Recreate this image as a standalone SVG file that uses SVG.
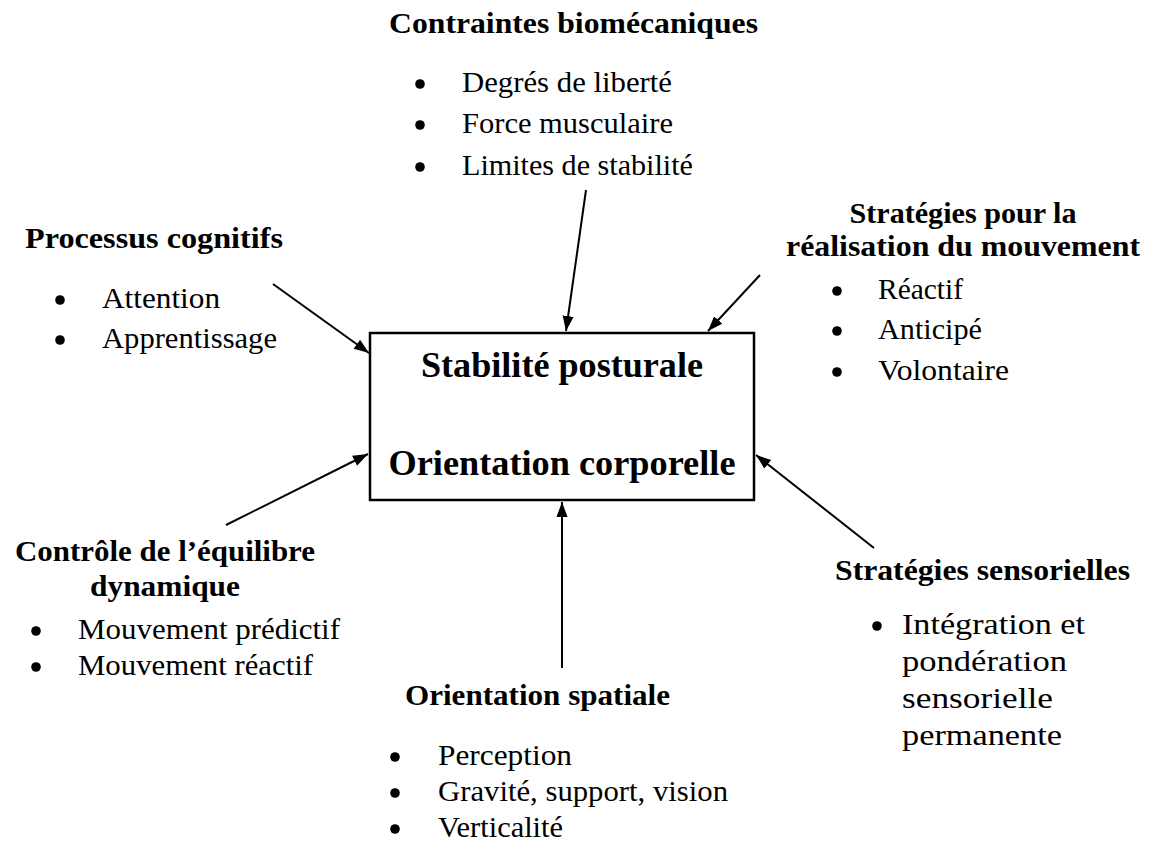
<svg xmlns="http://www.w3.org/2000/svg" width="1151" height="847" viewBox="0 0 1151 847">
<defs>
<style>
text{font-family:"Liberation Serif","Times New Roman",serif;fill:#000}
.h{font-weight:bold;font-size:29px}
.t{font-size:29px}
.m{font-weight:bold;font-size:36px}
.b{fill:#000}
.c{stroke:#000;stroke-width:2;fill:none}
</style>
<marker id="ah" viewBox="0 0 10 10" refX="10" refY="5" markerWidth="7.5" markerHeight="7.5" markerUnits="strokeWidth" orient="auto">
<path d="M0,1.3 L10,5 L0,8.7 z" fill="#000"/>
</marker>
</defs>
<rect width="1151" height="847" fill="#fff"/>
<g id="center">
<rect x="370" y="333" width="384" height="167" fill="#fff" stroke="#000" stroke-width="2.5"/>
<text class="m" x="562" y="377" text-anchor="middle" textLength="282" lengthAdjust="spacingAndGlyphs">Stabilité posturale</text>
<text class="m" x="562" y="475" text-anchor="middle" textLength="347" lengthAdjust="spacingAndGlyphs">Orientation corporelle</text>
</g>
<g id="biomecanique">
<text class="h" x="389" y="33" textLength="369" lengthAdjust="spacingAndGlyphs">Contraintes biomécaniques</text>
<circle class="b" cx="420" cy="84" r="4.8"/><text class="t" x="462" y="92" textLength="210" lengthAdjust="spacingAndGlyphs">Degrés de liberté</text>
<circle class="b" cx="420" cy="125" r="4.8"/><text class="t" x="462" y="133" textLength="211" lengthAdjust="spacingAndGlyphs">Force musculaire</text>
<circle class="b" cx="420" cy="167" r="4.8"/><text class="t" x="462" y="175" textLength="231" lengthAdjust="spacingAndGlyphs">Limites de stabilité</text>
</g>
<g id="cognitifs">
<text class="h" x="25" y="248" textLength="258" lengthAdjust="spacingAndGlyphs">Processus cognitifs</text>
<circle class="b" cx="60" cy="300" r="4.8"/><text class="t" x="102" y="308" textLength="118" lengthAdjust="spacingAndGlyphs">Attention</text>
<circle class="b" cx="60" cy="340" r="4.8"/><text class="t" x="102" y="348" textLength="175" lengthAdjust="spacingAndGlyphs">Apprentissage</text>
</g>
<g id="strategies-mouvement">
<text class="h" x="963" y="223" text-anchor="middle" textLength="227" lengthAdjust="spacingAndGlyphs">Stratégies pour la</text>
<text class="h" x="963" y="256" text-anchor="middle" textLength="354" lengthAdjust="spacingAndGlyphs">réalisation du mouvement</text>
<circle class="b" cx="837" cy="291" r="4.8"/><text class="t" x="878" y="299" textLength="85" lengthAdjust="spacingAndGlyphs">Réactif</text>
<circle class="b" cx="837" cy="331" r="4.8"/><text class="t" x="878" y="339" textLength="104" lengthAdjust="spacingAndGlyphs">Anticipé</text>
<circle class="b" cx="837" cy="372" r="4.8"/><text class="t" x="878" y="380" textLength="131" lengthAdjust="spacingAndGlyphs">Volontaire</text>
</g>
<g id="equilibre">
<text class="h" x="165" y="561" text-anchor="middle" textLength="300" lengthAdjust="spacingAndGlyphs">Contrôle de l’équilibre</text>
<text class="h" x="165" y="596" text-anchor="middle" textLength="150" lengthAdjust="spacingAndGlyphs">dynamique</text>
<circle class="b" cx="36" cy="631" r="4.8"/><text class="t" x="78" y="639" textLength="262" lengthAdjust="spacingAndGlyphs">Mouvement prédictif</text>
<circle class="b" cx="36" cy="667" r="4.8"/><text class="t" x="78" y="675" textLength="235" lengthAdjust="spacingAndGlyphs">Mouvement réactif</text>
</g>
<g id="spatiale">
<text class="h" x="405" y="705" textLength="265" lengthAdjust="spacingAndGlyphs">Orientation spatiale</text>
<circle class="b" cx="395" cy="757" r="4.8"/><text class="t" x="438" y="765" textLength="134" lengthAdjust="spacingAndGlyphs">Perception</text>
<circle class="b" cx="395" cy="793" r="4.8"/><text class="t" x="438" y="801" textLength="290" lengthAdjust="spacingAndGlyphs">Gravité, support, vision</text>
<circle class="b" cx="395" cy="829" r="4.8"/><text class="t" x="438" y="837" textLength="125" lengthAdjust="spacingAndGlyphs">Verticalité</text>
</g>
<g id="sensorielles">
<text class="h" x="835" y="580" textLength="295" lengthAdjust="spacingAndGlyphs">Stratégies sensorielles</text>
<circle class="b" cx="877" cy="626" r="4.8"/><text class="t" x="902" y="634" textLength="183" lengthAdjust="spacingAndGlyphs">Intégration et</text>
<text class="t" x="902" y="671" textLength="165" lengthAdjust="spacingAndGlyphs">pondération</text>
<text class="t" x="902" y="708" textLength="151" lengthAdjust="spacingAndGlyphs">sensorielle</text>
<text class="t" x="902" y="745" textLength="160" lengthAdjust="spacingAndGlyphs">permanente</text>
</g>
<g id="connectors">
<line class="c" x1="586" y1="190" x2="566" y2="331" marker-end="url(#ah)"/>
<line class="c" x1="273" y1="284" x2="369" y2="353" marker-end="url(#ah)"/>
<line class="c" x1="760" y1="275" x2="708" y2="331" marker-end="url(#ah)"/>
<line class="c" x1="226" y1="525" x2="368" y2="454" marker-end="url(#ah)"/>
<line class="c" x1="562" y1="668" x2="562" y2="502" marker-end="url(#ah)"/>
<line class="c" x1="874" y1="548" x2="756" y2="455" marker-end="url(#ah)"/>
</g>
</svg>
